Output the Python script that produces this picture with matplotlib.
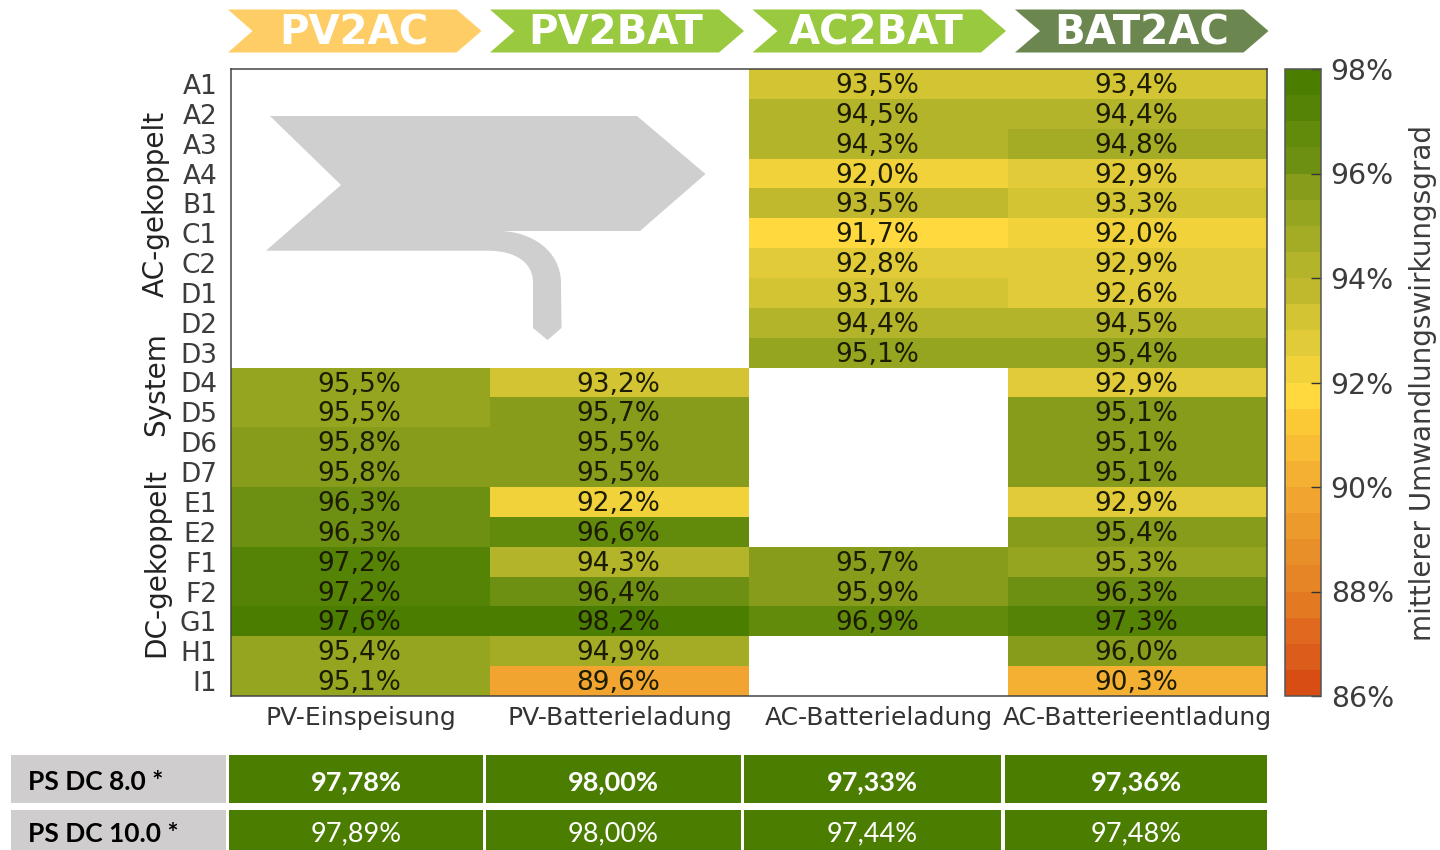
#!/usr/bin/env python3
"""
Mittlerer Umwandlungswirkungsgrad heatmap with flow headers and PS DC rows.
"""

import matplotlib

matplotlib.use("Agg")

import matplotlib.pyplot as plt
import numpy as np
from matplotlib.colors import BoundaryNorm, ListedColormap
from matplotlib.patches import PathPatch, Polygon, Rectangle
from matplotlib.path import Path

WIDTH, HEIGHT = 1440, 850

systems = ["A1", "A2", "A3", "A4", "B1", "C1", "C2", "D1", "D2", "D3", "D4",
           "D5", "D6", "D7", "E1", "E2", "F1", "F2", "G1", "H1", "I1"]
columns = ["PV-Einspeisung", "PV-Batterieladung", "AC-Batterieladung", "AC-Batterieentladung"]
headers = ["PV2AC", "PV2BAT", "AC2BAT", "BAT2AC"]
header_colors = ["#ffcd66", "#99c93f", "#99c93f", "#6b864e"]

nan = float("nan")
pv2ac = [nan] * 10 + [95.5, 95.5, 95.8, 95.8, 96.3, 96.3, 97.2, 97.2, 97.6, 95.4, 95.1]
pv2bat = [nan] * 10 + [93.2, 95.7, 95.5, 95.5, 92.2, 96.6, 94.3, 96.4, 98.2, 94.9, 89.6]
ac2bat = [93.5, 94.5, 94.3, 92.0, 93.5, 91.7, 92.8, 93.1, 94.4, 95.1, nan, nan, nan, nan,
          nan, nan, 95.7, 95.9, 96.9, nan, nan]
bat2ac = [93.4, 94.4, 94.8, 92.9, 93.3, 92.0, 92.9, 92.6, 94.5, 95.4, 92.9, 95.1, 95.1, 95.1,
          92.9, 95.4, 95.3, 96.3, 97.3, 96.0, 90.3]

# cells whose shade sits in another band than the printed value (row, column): shade
shade_fix = {(0, 2): 93.46, (1, 2): 94.46, (8, 3): 94.46, (10, 0): 95.46, (11, 0): 95.46,
             (11, 3): 95.6, (12, 3): 95.6, (13, 3): 95.6, (15, 3): 95.6, (19, 3): 95.96}

band_colors = ["#d74d13", "#dc5c1b", "#e0691f", "#e37a22", "#e68525", "#e98f29", "#ec9a2c", "#f1a530",
               "#f4b033", "#f7bd35", "#fbc836", "#ffd93e", "#f1d23a", "#e2cb38", "#d2c432", "#c0b92e",
               "#b3b42a", "#a3ac24", "#96a520", "#869c1a", "#6e9012", "#628b0c", "#558305", "#4a7d00"]
band_edges = [86 + 0.5 * i for i in range(25)]
cbar_ticks = [86, 88, 90, 92, 94, 96, 98]

table_rows = ["PS DC 8.0 *", "PS DC 10.0 *"]
table_8 = ["97,78%", "98,00%", "97,33%", "97,36%"]
table_10 = ["97,89%", "98,00%", "97,44%", "97,48%"]


def px_axes(fig, left, top, right, bottom):
    return fig.add_axes([left / WIDTH, 1 - bottom / HEIGHT, (right - left) / WIDTH, (bottom - top) / HEIGHT])


def draw_heatmap(ax, cmap, norm):
    printed = np.array([pv2ac, pv2bat, ac2bat, bat2ac]).T
    shade = printed.copy()
    for (row, col), value in shade_fix.items():
        shade[row, col] = value

    mesh = ax.pcolormesh(np.ma.masked_invalid(shade), cmap=cmap, norm=norm)
    ax.set_ylim(len(systems), 0)

    for (row, col), value in np.ndenumerate(printed):
        if not np.isnan(value):
            ax.text(col + 0.5 - 0.006, row + 0.57, f"{value:.1f}%".replace(".", ","),
                    ha="center", va="center", fontsize=19, color="#1c1c00")

    ax.set_xticks(np.arange(4) + 0.5, columns, fontsize=18, color="#333333")
    ax.set_yticks(np.arange(len(systems)) + 0.5, systems, fontsize=19, color="#3c3c3c")
    ax.tick_params(length=0)
    ax.tick_params(axis="x", pad=7)
    ax.tick_params(axis="y", pad=10)
    for spine in ax.spines.values():
        spine.set_color("#444444")
        spine.set_linewidth(1.1)
    return mesh


def draw_colorbar(fig, cax, mesh):
    cbar = fig.colorbar(mesh, cax=cax, ticks=cbar_ticks, spacing="proportional", drawedges=False)
    cbar.ax.minorticks_off()
    cbar.ax.set_yticklabels([f"{t}%" for t in cbar_ticks], fontsize=20.4, color="#3c3c3c")
    cbar.ax.tick_params(direction="in", length=7, width=1, color="#333333", pad=7)
    cbar.outline.set_edgecolor("#555555")
    cbar.outline.set_linewidth(1.1)


def draw_overlay(ax):
    # chevrons above the columns: left, notch, shoulder, tip
    chevrons = [(228, 252.5, 456.5, 481.5), (490, 514.5, 719, 744),
                (752.5, 777.5, 981, 1006), (1015, 1040, 1243.5, 1268.5)]
    centers = [354, 616, 876, 1142]
    for (left, notch, shoulder, tip), name, color, center in zip(chevrons, headers, header_colors, centers):
        ax.add_patch(Polygon([(left, 9.5), (shoulder, 9.5), (tip, 31), (shoulder, 52.5), (left, 52.5), (notch, 31)],
                             closed=True, facecolor=color, edgecolor="none"))
        ax.text(center, 33, name, ha="center", va="center", color="white", fontsize=29, fontweight="bold")

    # grey flow arrow in the empty PV area
    verts = [(270, 116), (637, 116), (705.5, 174), (640, 231), (499, 231),
             (530, 231), (561, 250), (561, 283),
             (561.5, 328), (547.5, 340), (533, 328), (533, 283),
             (533, 262), (515, 251), (489, 250.7),
             (266, 250.7), (341, 185), (270, 116)]
    codes = [Path.MOVETO, Path.LINETO, Path.LINETO, Path.LINETO, Path.LINETO,
             Path.CURVE4, Path.CURVE4, Path.CURVE4,
             Path.LINETO, Path.LINETO, Path.LINETO, Path.LINETO,
             Path.CURVE4, Path.CURVE4, Path.CURVE4,
             Path.LINETO, Path.LINETO, Path.CLOSEPOLY]
    ax.add_patch(PathPatch(Path(verts, codes), facecolor="#cfcfcf", edgecolor="none"))

    for label, y in zip(["AC-gekoppelt", "System", "DC-gekoppelt"], [203.5, 384, 562.5]):
        ax.text(156, y, label, rotation=90, ha="center", va="center", fontsize=20.1, color="#222222")

    ax.text(1423, 383, "mittlerer Umwandlungswirkungsgrad", rotation=90, ha="center", va="center",
            fontsize=20.1, color="#3c3c3c")

    # PS DC rows below the heatmap
    col_edges = [(229, 483), (486, 741), (744, 1001), (1005, 1267)]
    row_edges = [(755, 803), (810, 860)]
    row_centers = [782, 834]
    for r, (name, row_values) in enumerate(zip(table_rows, [table_8, table_10])):
        top, bottom = row_edges[r]
        ax.add_patch(Rectangle((11, top), 215, bottom - top, facecolor="#cfcdce", edgecolor="none"))
        ax.text(28, row_centers[r], name, ha="left", va="center", fontsize=19, fontweight="bold",
                family="Lato", color="black")
        for (left, right), text in zip(col_edges, row_values):
            ax.add_patch(Rectangle((left, top), right - left, bottom - top, facecolor="#4a7d00", edgecolor="none"))
            ax.text((left + right) / 2, row_centers[r], text, ha="center", va="center", fontsize=19.5,
                    family="Lato", color="white", fontweight="bold" if r == 0 else "normal")


def main():
    fig = plt.figure(figsize=(WIDTH / 100, HEIGHT / 100), dpi=100, facecolor="white")

    cmap = ListedColormap(band_colors)
    norm = BoundaryNorm(band_edges, cmap.N, clip=True)

    ax = px_axes(fig, 231, 69, 1267, 696)
    mesh = draw_heatmap(ax, cmap, norm)

    cax = px_axes(fig, 1285, 69, 1321, 696)
    draw_colorbar(fig, cax, mesh)

    overlay = fig.add_axes([0, 0, 1, 1], facecolor="none", zorder=5)
    overlay.set_xlim(0, WIDTH)
    overlay.set_ylim(HEIGHT, 0)
    overlay.axis("off")
    draw_overlay(overlay)

    fig.savefig("out.png", dpi=100)


if __name__ == "__main__":
    main()
